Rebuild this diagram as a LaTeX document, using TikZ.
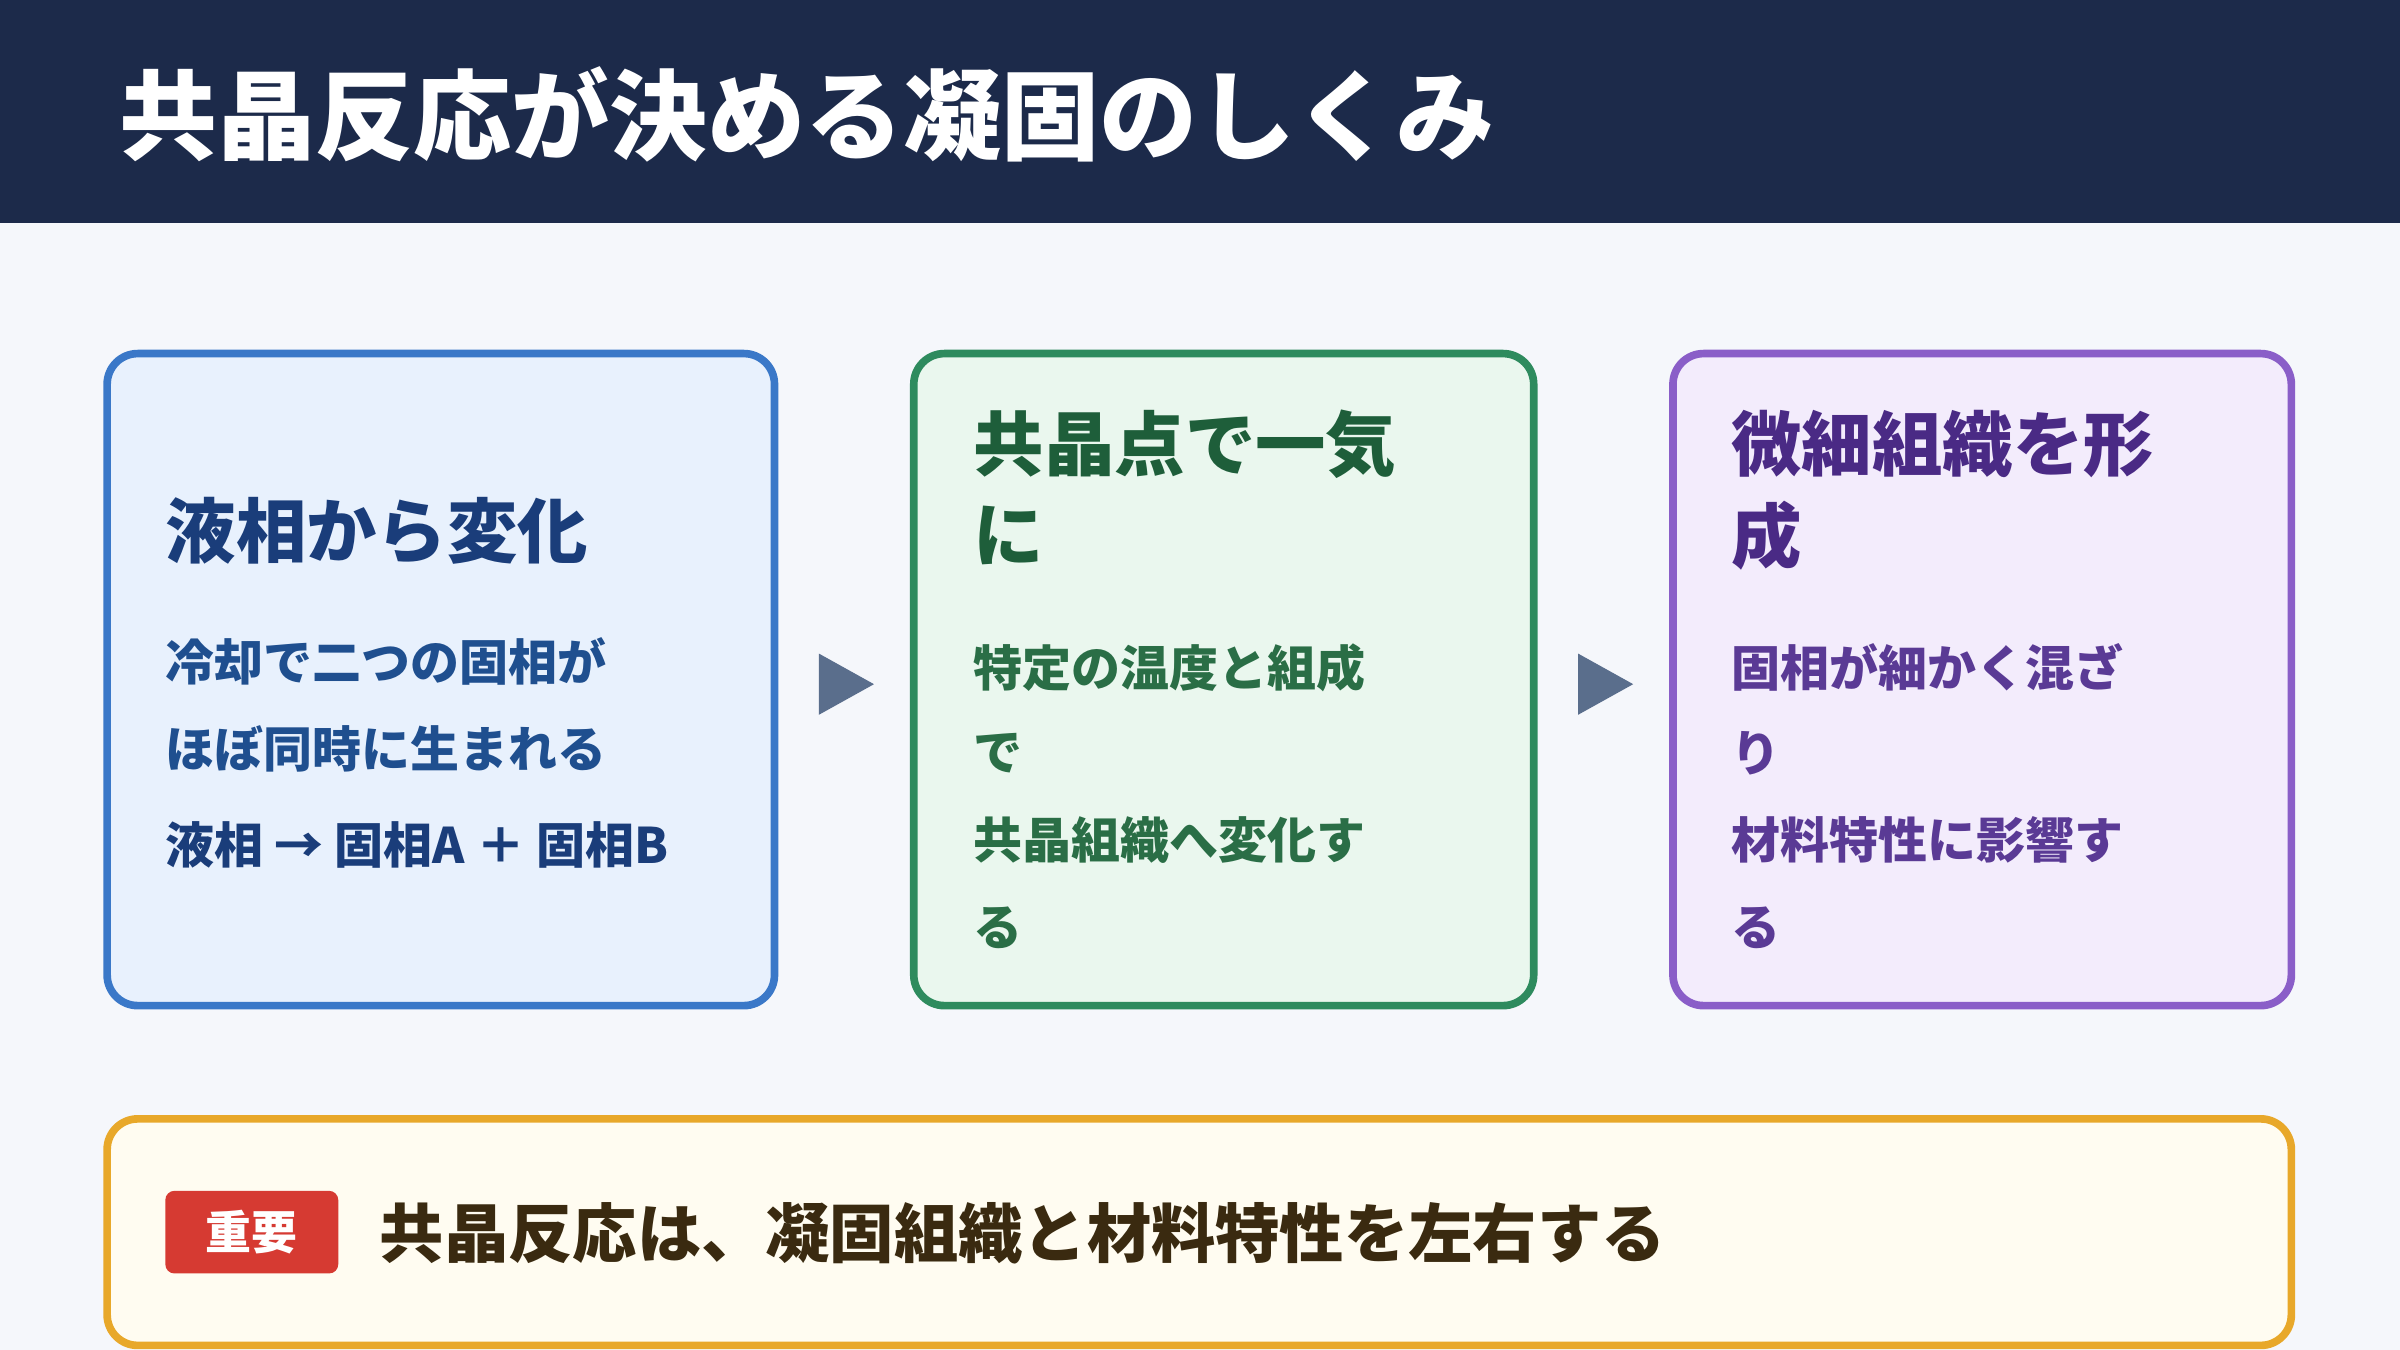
\documentclass[tikz,border=0pt]{standalone}
\usepackage{fontspec}
\setmainfont{Noto Sans CJK JP}
\definecolor{hdr}{HTML}{1C2A4A}
\definecolor{bg}{HTML}{F5F7FB}
\definecolor{b1}{HTML}{3A78C8}\definecolor{f1}{HTML}{E8F1FD}\definecolor{t1}{HTML}{1A3D7A}\definecolor{s1}{HTML}{1F4F8F}
\definecolor{b2}{HTML}{2E8B5E}\definecolor{f2}{HTML}{EAF7EE}\definecolor{t2}{HTML}{1E5E3A}\definecolor{s2}{HTML}{2A6E46}
\definecolor{b3}{HTML}{8A5EC8}\definecolor{f3}{HTML}{F3ECFC}\definecolor{t3}{HTML}{4A2A85}\definecolor{s3}{HTML}{5A3A95}
\definecolor{b4}{HTML}{E8A82A}\definecolor{f4}{HTML}{FFFCF1}\definecolor{t4}{HTML}{3A2A10}
\definecolor{red}{HTML}{D63A32}\definecolor{arr}{HTML}{5A6E8C}
\begin{document}
\begin{tikzpicture}[x=1pt,y=-1pt,
 card/.style={line width=5pt,rounded corners=20pt},
 ttl/.style={anchor=west,inner sep=0,font=\bfseries\fontsize{46}{50}\selectfont},
 txt/.style={anchor=west,inner sep=0,font=\bfseries\fontsize{32}{36}\selectfont},
 tri/.style={fill=arr}]
\useasboundingbox (0,0) rectangle (1568,882);
\fill[bg] (0,0) rectangle (1568,882);
\fill[hdr] (0,0) rectangle (1568,146);
\node[anchor=west,inner sep=0,text=white,font=\bfseries\fontsize{64}{70}\selectfont] (title) at (78,75) {共晶反応が決める凝固のしくみ};
% box 1
\draw[card,draw=b1,fill=f1] (70,231) rectangle (506,657);
\node[ttl,text=t1] (a1) at (108,347) {液相から変化};
\node[txt,text=s1] (a2) at (108,432) {冷却で二つの固相が};
\node[txt,text=s1] (a3) at (108,489) {ほぼ同時に生まれる};
\node[txt,text=t1] (a4) at (108,552) {液相 → 固相A ＋ 固相B};
% arrows
\fill[tri] (535,427) -- (571,447) -- (535,467) -- cycle;
\fill[tri] (1031,427) -- (1067,447) -- (1031,467) -- cycle;
% box 2
\draw[card,draw=b2,fill=f2] (597,231) rectangle (1002,657);
\node[ttl,text=t2] (c1) at (636,290) {共晶点で一気};
\node[ttl,text=t2] (c2) at (636,350) {に};
\node[txt,text=s2] (c3) at (636,436) {特定の温度と組成};
\node[txt,text=s2] (c4) at (636,492) {で};
\node[txt,text=s2] (c5) at (636,549) {共晶組織へ変化す};
\node[txt,text=s2] (c6) at (636,606) {る};
% box 3
\draw[card,draw=b3,fill=f3] (1093,231) rectangle (1497,657);
\node[ttl,text=t3] (d1) at (1131,290) {微細組織を形};
\node[ttl,text=t3] (d2) at (1131,350) {成};
\node[txt,text=s3] (d3) at (1131,436) {固相が細かく混ざ};
\node[txt,text=s3] (d4) at (1131,492) {り};
\node[txt,text=s3] (d5) at (1131,549) {材料特性に影響す};
\node[txt,text=s3] (d6) at (1131,606) {る};
% bottom
\draw[card,draw=b4,fill=f4] (70,731) rectangle (1497,879);
\fill[red,rounded corners=6pt] (108,778) rectangle (221,832);
\node[inner sep=0,text=white,font=\bfseries\fontsize{30}{34}\selectfont] (badge) at (164.5,805) {重要};
\node[anchor=west,inner sep=0,text=t4,font=\bfseries\fontsize{42}{46}\selectfont] (key) at (248,806) {共晶反応は、凝固組織と材料特性を左右する};
\end{tikzpicture}
\end{document}
